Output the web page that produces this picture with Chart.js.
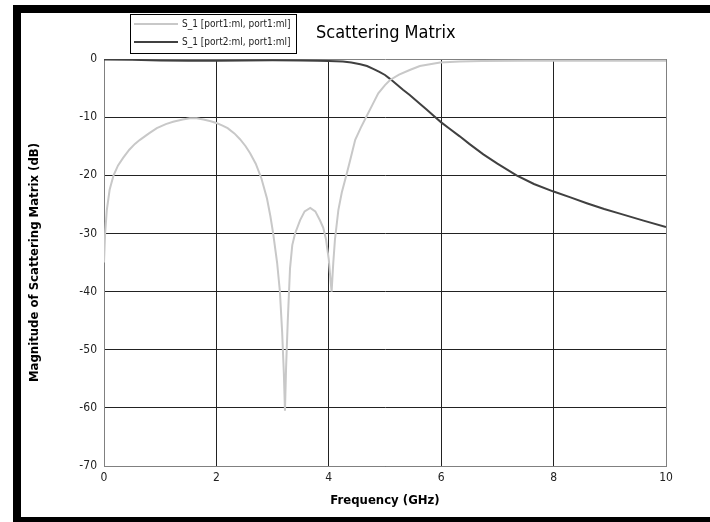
<!DOCTYPE html>
<html>
<head>
<meta charset="utf-8">
<script src="https://cdn.jsdelivr.net/npm/chart.js@4"></script>
<style>
  html, body { margin: 0; padding: 0; background: #fff; }
  #wrap { position: relative; width: 710px; height: 522px; overflow: hidden; }
  #frame { position: absolute; left: 13px; top: 5px; width: 720px; height: 504px;
           border-top: 8px solid #000; border-left: 8px solid #000; border-bottom: 6px solid #000; }
  canvas { position: absolute; left: 0; top: 0; }
</style>
</head>
<body>
<div id="wrap">
  <div id="frame"></div>
  <canvas id="grafico" width="710" height="522"></canvas>
</div>
<script>
const FONTE = "'DejaVu Sans Condensed', 'Liberation Sans Narrow', sans-serif";

const titulo = "Scattering Matrix";
const tituloX = "Frequency (GHz)";
const tituloY = "Magnitude of Scattering Matrix (dB)";

const nomeS11 = "S_1 [port1:ml, port1:ml]";
const nomeS21 = "S_1 [port2:ml, port1:ml]";

// S11 (cinza claro)
const freqS11 = [0, 0.02, 0.05, 0.1, 0.17, 0.25, 0.34, 0.45, 0.55, 0.64, 0.8, 0.94, 1.1, 1.23, 1.4, 1.53, 1.65,
  1.77, 1.9, 2.0, 2.1, 2.2, 2.32, 2.42, 2.52, 2.6, 2.7, 2.8, 2.9, 2.96, 3.01, 3.08, 3.13, 3.17, 3.2, 3.22,
  3.24, 3.27, 3.31, 3.35, 3.4, 3.49, 3.57, 3.67, 3.76, 3.84, 3.9, 3.95, 4.0, 4.03, 4.05, 4.08, 4.11, 4.17,
  4.23, 4.32, 4.38, 4.47, 4.57, 4.67, 4.78, 4.88, 5.0, 5.09, 5.25, 5.44, 5.62, 5.8, 5.98, 6.33, 6.72, 7.5,
  8.5, 10];
const dbS11 = [-35, -30, -26, -22.5, -20, -18.3, -17, -15.6, -14.6, -13.9, -12.8, -11.9, -11.2, -10.8, -10.4, -10.2, -10.2,
  -10.4, -10.7, -11.0, -11.4, -11.9, -12.8, -13.8, -15, -16.2, -18, -20.5, -24, -27, -30, -35, -40, -47, -54, -60.5,
  -53, -45, -36, -32, -30, -27.7, -26.2, -25.6, -26.2, -27.7, -29, -31, -34.5, -38, -40, -35, -31, -26,
  -23, -19.7, -17.4, -13.9, -11.8, -9.9, -7.8, -5.9, -4.5, -3.6, -2.7, -1.9, -1.2, -0.9, -0.6, -0.45, -0.35, -0.3,
  -0.3, -0.3];

// S21 (cinza escuro)
const freqS21 = [0, 0.5, 1, 1.5, 2, 2.5, 3, 3.5, 3.8, 4.0, 4.25, 4.4, 4.56, 4.68, 4.79, 4.9, 5.0, 5.1,
  5.21, 5.32, 5.44, 5.62, 5.74, 5.87, 6.0, 6.15, 6.33, 6.5, 6.75, 7.0, 7.34, 7.65, 8.0, 8.3, 8.59, 8.9,
  9.18, 9.6, 10];
const dbS21 = [-0.1, -0.15, -0.25, -0.3, -0.3, -0.25, -0.2, -0.25, -0.3, -0.35, -0.45, -0.6, -0.9, -1.2, -1.7, -2.2, -2.75, -3.5,
  -4.4, -5.3, -6.2, -7.7, -8.7, -9.8, -10.9, -12, -13.3, -14.6, -16.4, -18, -20, -21.5, -22.8, -23.8, -24.8, -25.8,
  -26.6, -27.8, -28.9];

const pontos = (xs, ys) => xs.map((x, i) => ({ x, y: ys[i] }));

// titulo e legenda desenhados a mao
const decoracao = {
  id: 'decoracao',
  afterDraw(chart) {
    const ctx = chart.ctx;
    ctx.save();
    ctx.fillStyle = '#000';
    ctx.font = `18px ${FONTE}`;
    ctx.textAlign = 'left';
    ctx.textBaseline = 'middle';
    ctx.fillText(titulo, 316, 33);

    // caixa da legenda
    ctx.strokeStyle = '#000';
    ctx.lineWidth = 1;
    ctx.strokeRect(130.5, 14.5, 166, 39);
    ctx.font = `10px ${FONTE}`;
    const ys = [24, 42];
    chart.data.datasets.forEach((ds, i) => {
      ctx.strokeStyle = ds.borderColor;
      ctx.lineWidth = 2;
      ctx.beginPath();
      ctx.moveTo(134, ys[i]);
      ctx.lineTo(178, ys[i]);
      ctx.stroke();
      ctx.fillStyle = '#222';
      ctx.fillText(ds.label, 182, ys[i]);
    });
    ctx.restore();
  }
};

const corGrade = (ctx, limite) => (ctx.tick && ctx.tick.value === limite) ? '#808080' : '#222';

new Chart(document.getElementById('grafico'), {
  type: 'line',
  data: {
    datasets: [{
      label: nomeS11,
      data: pontos(freqS11, dbS11),
      borderColor: '#c8c8c8',
      borderWidth: 2,
      pointRadius: 0,
      fill: false,
      tension: 0
    }, {
      label: nomeS21,
      data: pontos(freqS21, dbS21),
      borderColor: '#404040',
      borderWidth: 2,
      pointRadius: 0,
      fill: false,
      tension: 0
    }]
  },
  options: {
    responsive: false,
    animation: false,
    layout: { padding: { left: 0, top: 59, right: 44, bottom: 0 } },
    plugins: {
      legend: { display: false },
      title: { display: false },
      tooltip: { enabled: false }
    },
    scales: {
      x: {
        type: 'linear',
        min: 0,
        max: 10,
        ticks: { stepSize: 2, padding: 5, color: '#222', font: { family: FONTE, size: 12 } },
        grid: { drawTicks: false, color: c => corGrade(c, 10), lineWidth: 1 },
        border: { color: '#808080' },
        title: { display: true, text: tituloX, color: '#000', padding: { top: 0, bottom: 14 },
                 font: { family: FONTE, size: 13, weight: 'bold' } },
        afterFit: s => { s.height = 56; }
      },
      y: {
        min: -70,
        max: 0,
        ticks: { stepSize: 10, padding: 7, color: '#222', font: { family: FONTE, size: 12 } },
        grid: { drawTicks: false, color: c => corGrade(c, 0), lineWidth: 1 },
        border: { color: '#808080' },
        title: { display: true, text: tituloY, color: '#000', padding: { top: 27, bottom: 0 },
                 font: { family: FONTE, size: 13, weight: 'bold' } },
        afterFit: s => { s.width = 104; }
      }
    }
  },
  plugins: [decoracao]
});
</script>
</body>
</html>
